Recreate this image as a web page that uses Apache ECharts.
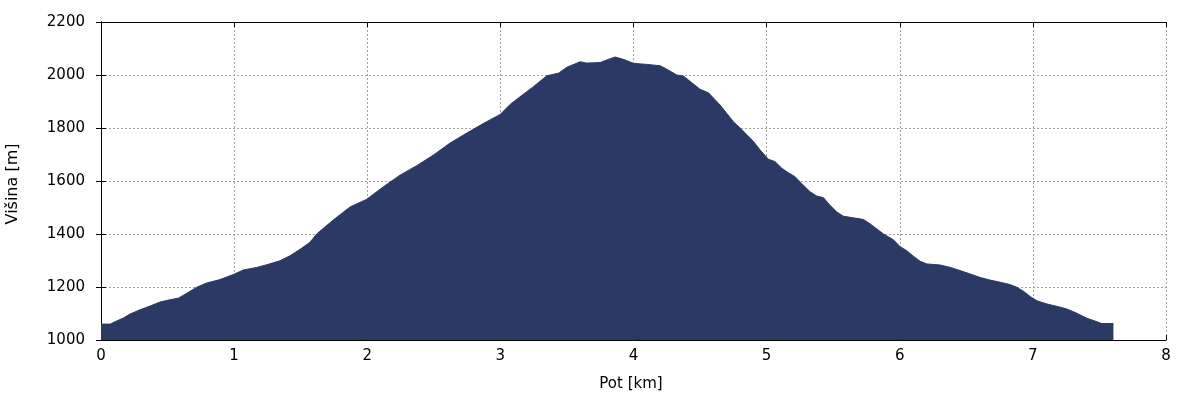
<!DOCTYPE html>
<html>
<head>
<meta charset="utf-8">
<script src="https://cdn.jsdelivr.net/npm/echarts@6/dist/echarts.min.js"></script>
<style>html,body{margin:0;padding:0;background:#fff}#c{width:1200px;height:400px}</style>
</head>
<body>
<div id="c"></div>
<script>
const distKm = [0, 0.07, 0.105, 0.168, 0.218, 0.293, 0.368, 0.443, 0.518, 0.581, 0.644, 0.719, 0.794, 0.894, 0.994, 1.069, 1.17, 1.245, 1.345, 1.42, 1.495, 1.57, 1.62, 1.745, 1.871, 1.996, 2.121, 2.246, 2.372, 2.497, 2.622, 2.748, 2.872, 2.998, 3.073, 3.148, 3.248, 3.349, 3.436, 3.499, 3.599, 3.649, 3.749, 3.80, 3.862, 3.924, 3.999, 4.10, 4.20, 4.25, 4.325, 4.375, 4.50, 4.563, 4.65, 4.75, 4.801, 4.851, 4.901, 4.951, 5.014, 5.064, 5.114, 5.164, 5.214, 5.264, 5.327, 5.377, 5.427, 5.477, 5.527, 5.577, 5.652, 5.727, 5.778, 5.828, 5.878, 5.953, 6.003, 6.053, 6.103, 6.153, 6.204, 6.304, 6.379, 6.454, 6.529, 6.604, 6.679, 6.754, 6.829, 6.879, 6.929, 6.98, 7.03, 7.105, 7.18, 7.255, 7.33, 7.406, 7.481, 7.518, 7.605];
const elevM = [1060, 1060, 1069, 1083, 1098, 1114, 1128, 1143, 1152, 1158, 1176, 1199, 1215, 1228, 1247, 1264, 1274, 1284, 1299, 1318, 1342, 1369, 1400, 1453, 1502, 1531, 1578, 1622, 1658, 1698, 1743, 1781, 1817, 1851, 1889, 1918, 1956, 1997, 2007, 2029, 2050, 2045, 2047, 2057, 2068, 2059, 2044, 2040, 2035, 2022, 2000, 1996, 1946, 1933, 1887, 1824, 1800, 1775, 1749, 1717, 1682, 1673, 1648, 1631, 1616, 1590, 1559, 1543, 1537, 1508, 1483, 1467, 1461, 1455, 1438, 1419, 1400, 1378, 1352, 1337, 1316, 1297, 1287, 1283, 1274, 1262, 1249, 1236, 1226, 1218, 1209, 1199, 1184, 1164, 1148, 1136, 1127, 1117, 1101, 1082, 1069, 1062, 1062];
const xTicks = [0, 1, 2, 3, 4, 5, 6, 7, 8];
const yTicks = [1000, 1200, 1400, 1600, 1800, 2000, 2200];
const xTitle = 'Pot [km]';
const yTitle = 'Višina [m]';

const font = 'DejaVu Sans';
const fs = 15;
const chart = echarts.init(document.getElementById('c'), null, {renderer: 'canvas'});
const gridLine = {show: true, lineStyle: {color: '#a0a0a0', type: [2, 2], width: 1}};
const axisLine = {show: true, lineStyle: {color: '#000', width: 1}};
const tick = {show: true, inside: true, length: 5, lineStyle: {color: '#000'}};
const xMin = xTicks[0], xMax = xTicks[xTicks.length - 1], xInt = xTicks[1] - xTicks[0];
const yMin = yTicks[0], yMax = yTicks[yTicks.length - 1], yInt = yTicks[1] - yTicks[0];

chart.setOption({
  animation: false,
  backgroundColor: '#fff',
  grid: {left: 101, right: 34, top: 22, bottom: 60, containLabel: false, outerBoundsMode: 'none'},
  xAxis: [{
    type: 'value', min: xMin, max: xMax, interval: xInt, position: 'bottom',
    name: xTitle, nameLocation: 'middle', nameGap: 37,
    nameTextStyle: {fontFamily: font, fontSize: fs, color: '#000', padding: [0, 5, 0, 0]},
    axisLine: axisLine, axisTick: tick, splitLine: gridLine,
    axisLabel: {fontFamily: font, fontSize: fs, color: '#000', margin: 9, formatter: v => String(v)}
  }, {
    type: 'value', min: xMin, max: xMax, interval: xInt, position: 'top',
    axisLine: axisLine, axisTick: tick, splitLine: {show: false}, axisLabel: {show: false}
  }],
  yAxis: [{
    type: 'value', min: yMin, max: yMax, interval: yInt, position: 'left',
    name: yTitle, nameLocation: 'middle', nameGap: 80,
    nameTextStyle: {fontFamily: font, fontSize: 16, color: '#000', padding: [0, 6, 0, 0]},
    axisLine: axisLine, axisTick: tick, splitLine: gridLine,
    axisLabel: {fontFamily: font, fontSize: fs, color: '#000', margin: 16, formatter: v => String(v)}
  }, {
    type: 'value', min: yMin, max: yMax, interval: yInt, position: 'right',
    axisLine: axisLine, axisTick: tick, splitLine: {show: false}, axisLabel: {show: false}
  }],
  series: [{
    type: 'line',
    xAxisIndex: 0, yAxisIndex: 0,
    data: distKm.map((d, i) => [d, elevM[i]]),
    showSymbol: false, symbol: 'none',
    lineStyle: {color: '#2b3a64', width: 1},
    areaStyle: {color: '#2b3a64', opacity: 1, origin: 'start'},
    z: 1
  }]
});
</script>
</body>
</html>
